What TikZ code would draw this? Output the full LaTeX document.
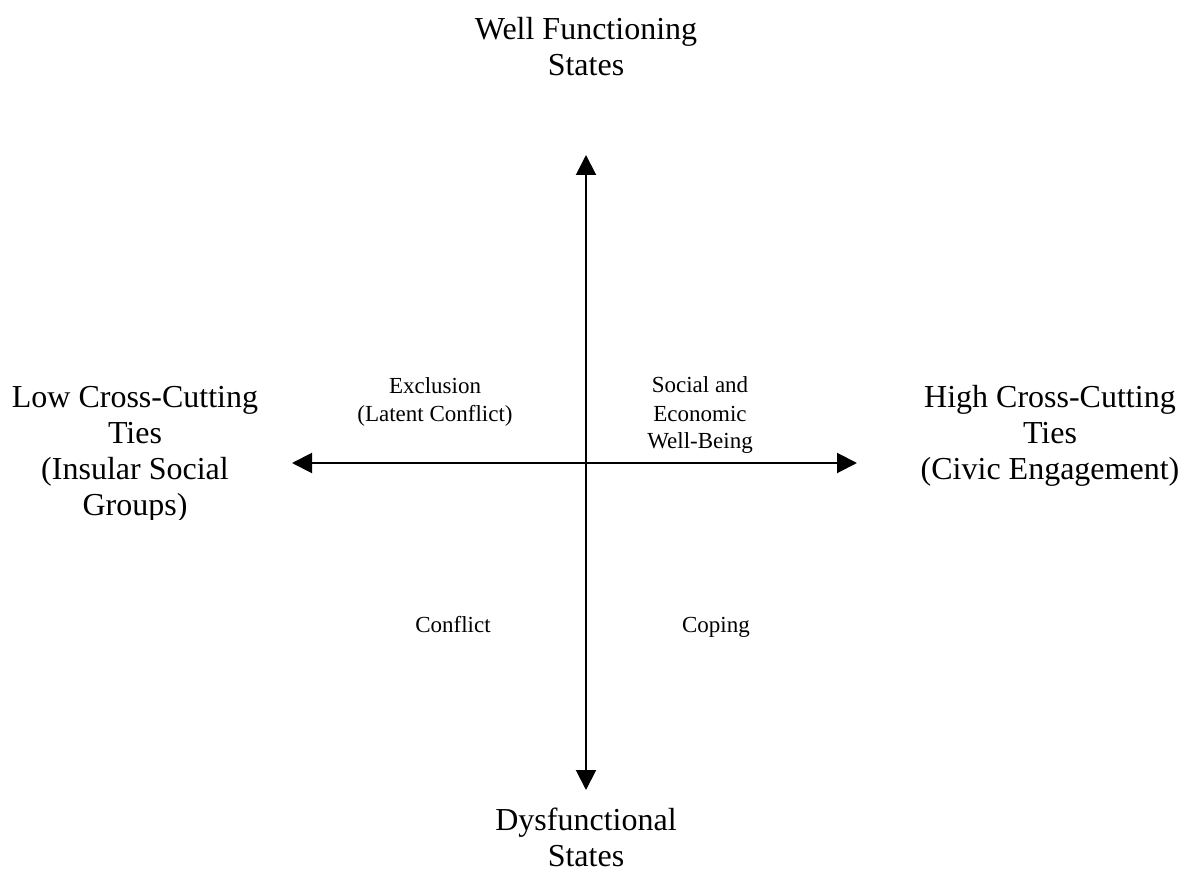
\documentclass[tikz,border=0pt]{standalone}
\usepackage{fontspec}
\setmainfont{Liberation Serif}
\usetikzlibrary{arrows.meta}
\tikzset{
  big/.style={align=center, inner sep=0pt, anchor=base, font=\fontsize{32}{36}\selectfont},
  small/.style={align=center, inner sep=0pt, anchor=base, font=\fontsize{23}{28}\selectfont},
  axis/.style={line width=2pt, {Triangle[length=20pt,width=20pt]}-{Triangle[length=20pt,width=20pt]}}
}
\begin{document}
\begin{tikzpicture}[x=1pt,y=-1pt]
\useasboundingbox (0,0) rectangle (1179,885);
\coordinate (top) at (586,155);
\coordinate (bot) at (586,790);
\coordinate (lft) at (292,463);
\coordinate (rgt) at (857,463);
\draw[axis] (bot) -- (top);
\draw[axis] (lft) -- (rgt);
\node[big] (wf) at (586,76) {Well Functioning\\States};
\node[big] (dy) at (586,866) {Dysfunctional\\States};
\begin{scope}
\clip (0,0) rectangle (320,519);
\node[big] (low) at (135,515) {Low Cross-Cutting\\Ties\\(Insular Social\\Groups)};
\end{scope}
\node[big] (high) at (1050,479) {High Cross-Cutting\\Ties\\(Civic Engagement)};
\node[small] (ex) at (435,421) {Exclusion\\(Latent Conflict)};
\node[small] (se) at (700,449) {Social and\\Economic\\Well-Being};
\node[small] (cf) at (453,632) {Conflict};
\node[small] (cp) at (716,632) {Coping};
\end{tikzpicture}
\end{document}
